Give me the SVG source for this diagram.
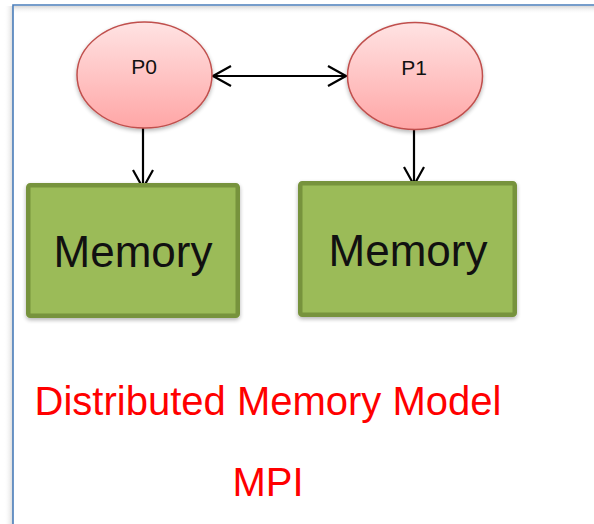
<svg xmlns="http://www.w3.org/2000/svg" width="594" height="524" viewBox="0 0 594 524">
  <defs>
    <linearGradient id="procFill" x1="0" y1="0" x2="0" y2="1">
      <stop offset="0" stop-color="#ffe3e3"/>
      <stop offset="1" stop-color="#ffa6a6"/>
    </linearGradient>
    <linearGradient id="frameShadowTop" x1="0" y1="0" x2="0" y2="1">
      <stop offset="0" stop-color="#d8d8d8"/>
      <stop offset="1" stop-color="#ffffff" stop-opacity="0"/>
    </linearGradient>
    <linearGradient id="frameShadowLeft" x1="1" y1="0" x2="0" y2="0">
      <stop offset="0" stop-color="#d8d8d8"/>
      <stop offset="1" stop-color="#ffffff" stop-opacity="0"/>
    </linearGradient>
    <filter id="softShadow" x="-20%" y="-20%" width="140%" height="150%">
      <feGaussianBlur in="SourceAlpha" stdDeviation="2"/>
      <feOffset dx="0" dy="2" result="blur"/>
      <feComponentTransfer><feFuncA type="linear" slope="0.3"/></feComponentTransfer>
      <feMerge><feMergeNode/><feMergeNode in="SourceGraphic"/></feMerge>
    </filter>
    <marker id="head" viewBox="0 0 20 24" refX="19" refY="12" markerWidth="20" markerHeight="24" markerUnits="userSpaceOnUse" orient="auto-start-reverse">
      <path d="M1 2 L19 12 L1 22" fill="none" stroke="#000" stroke-width="2.2"/>
    </marker>
  </defs>
  <style>
    .proc { fill: url(#procFill); stroke: #c0504d; stroke-width: 1.5; }
    .mem { fill: #9bbb59; stroke: #77933c; stroke-width: 4.5; }
    .plabel { font-family: "Liberation Sans", Arial, sans-serif; font-size: 21px; fill: #111; text-anchor: middle; }
    .mlabel { font-family: "Liberation Sans", Arial, sans-serif; font-size: 44px; fill: #111; text-anchor: middle; }
    .caption { font-family: "Liberation Sans", Arial, sans-serif; font-size: 40px; fill: #ff0000; text-anchor: middle; }
    .link { fill: none; stroke: #000; stroke-width: 2.2; }
  </style>

  <rect x="0" y="0" width="594" height="524" fill="#ffffff"/>

  <!-- frame -->
  <g id="frame">
    <rect x="14" y="6" width="580" height="8" fill="url(#frameShadowTop)"/>
    <rect x="4" y="6" width="9" height="518" fill="url(#frameShadowLeft)"/>
    <path d="M13 524 V5 H594" fill="none" stroke="#4a7ebb" stroke-width="1.6"/>
  </g>

  <!-- connectors -->
  <g id="connectors">
    <line class="link" x1="213" y1="76" x2="346" y2="76" marker-start="url(#head)" marker-end="url(#head)"/>
    <line class="link" x1="143" y1="128" x2="143" y2="188" marker-end="url(#head)"/>
    <line class="link" x1="414" y1="127" x2="414" y2="185" marker-end="url(#head)"/>
  </g>

  <g id="p0">
    <ellipse class="proc" cx="144.5" cy="75" rx="67.5" ry="53" filter="url(#softShadow)"/>
    <text class="plabel" x="144" y="74">P0</text>
  </g>

  <g id="p1">
    <ellipse class="proc" cx="415" cy="76" rx="67.5" ry="53.5" filter="url(#softShadow)"/>
    <text class="plabel" x="414" y="75">P1</text>
  </g>

  <g id="memory0">
    <rect class="mem" x="28.25" y="185.25" width="209.5" height="130.5" rx="2" filter="url(#softShadow)"/>
    <text class="mlabel" x="133" y="267">Memory</text>
  </g>

  <g id="memory1">
    <rect class="mem" x="300.25" y="183.25" width="214.5" height="131.5" rx="2" filter="url(#softShadow)"/>
    <text class="mlabel" x="408" y="266">Memory</text>
  </g>

  <g id="caption">
    <text class="caption" x="268" y="415">Distributed Memory Model</text>
    <text class="caption" x="268" y="496">MPI</text>
  </g>
</svg>
